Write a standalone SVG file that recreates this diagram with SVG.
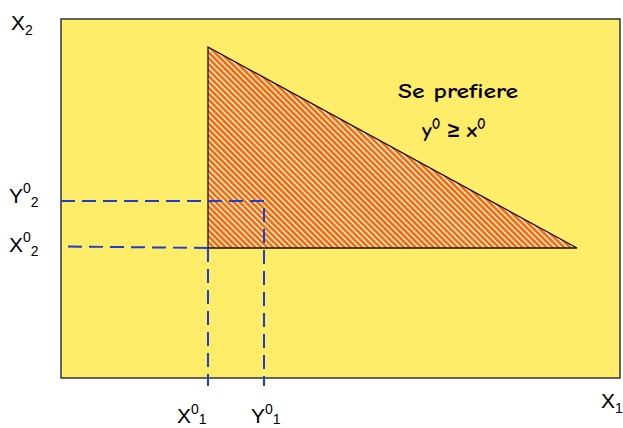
<svg xmlns="http://www.w3.org/2000/svg" width="623" height="428" viewBox="0 0 623 428">
<defs>
<pattern id="hatch" patternUnits="userSpaceOnUse" width="4.2" height="10" patternTransform="rotate(-45)">
<rect x="0" y="0" width="4.2" height="10" fill="#ffffff"/>
<rect x="0" y="0" width="2.8" height="10" fill="#ff6a00"/>
</pattern>
</defs>
<style>
.lbl{font-family:"Liberation Sans",Arial,sans-serif;font-size:21px;fill:#000}
.sup{font-size:14px}
.dash{stroke:#1c3fd0;stroke-width:2;stroke-dasharray:14,7;fill:none}
.bold{font-family:"Comic Neue","Liberation Sans",Arial,sans-serif;font-weight:bold;font-size:21px;fill:#000}
</style>
<g id="frame">
<rect x="61" y="19" width="559" height="359" fill="#ffec68" stroke="#333" stroke-width="1.5"/>
</g>
<g id="region">
<polygon points="208,47 577,248 208,248" fill="url(#hatch)" stroke="#111" stroke-width="1.3"/>
</g>
<g id="connectors">
<path class="dash" d="M61,201 H264 V386"/>
<path class="dash" d="M68,246.5 L208,248"/>
<path class="dash" d="M208,248 V386"/>
</g>
<g id="labels">
<text class="lbl" x="11" y="30">X<tspan class="sup" dy="5">2</tspan></text>
<text class="lbl" x="9" y="203">Y<tspan class="sup" dy="-10">0</tspan><tspan class="sup" dy="14">2</tspan></text>
<text class="lbl" x="9" y="252">X<tspan class="sup" dy="-10">0</tspan><tspan class="sup" dy="14">2</tspan></text>
<text class="lbl" x="177" y="423">X<tspan class="sup" dy="-9">0</tspan><tspan class="sup" dy="10">1</tspan></text>
<text class="lbl" x="251" y="423">Y<tspan class="sup" dy="-9">0</tspan><tspan class="sup" dy="10">1</tspan></text>
<text class="lbl" x="601" y="408">X<tspan class="sup" dy="5">1</tspan></text>
</g>
<g id="note">
<text class="bold" x="398" y="98" textLength="120" lengthAdjust="spacingAndGlyphs">Se prefiere</text>
<text class="bold" x="422" y="137">y<tspan font-size="15" dy="-8">0</tspan><tspan dy="8"> ≥ x</tspan><tspan font-size="15" dy="-8">0</tspan></text>
</g>
</svg>
